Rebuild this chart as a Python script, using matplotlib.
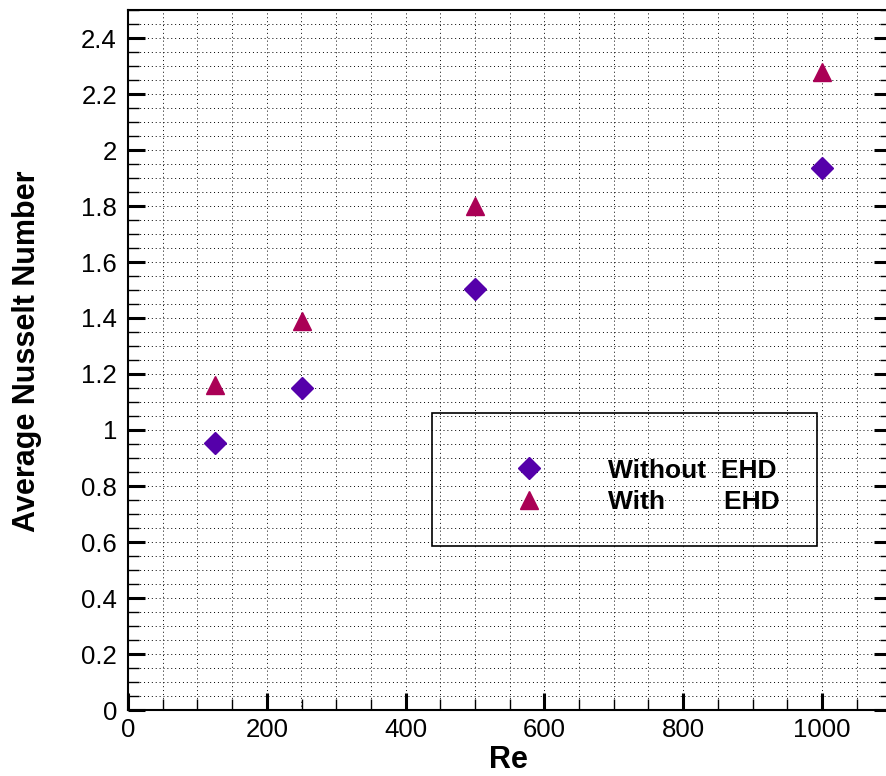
import matplotlib
matplotlib.use('Agg')
import matplotlib.pyplot as plt
import matplotlib.patches as mpatches
from matplotlib.ticker import MultipleLocator, FormatStrFormatter
import numpy as np

re_vals = [125, 250, 500, 1000]
nu_without = [0.954, 1.15, 1.504, 1.936]
nu_with = [1.16, 1.39, 1.80, 2.28]
labels = ['Without  EHD', 'With        EHD']

plt.rcParams['font.family'] = ['Liberation Sans', 'DejaVu Sans']

fig = plt.figure(figsize=(8.86, 7.76), dpi=100)
ax = fig.add_axes([128 / 886, 66 / 776, 763.4 / 886, 700 / 776])

ax.plot(re_vals, nu_without, linestyle='none', marker='D', markersize=11.5,
        color='#5500aa', label=labels[0])
ax.plot(re_vals, nu_with, linestyle='none', marker='^', markersize=13,
        color='#aa0055', label=labels[1])

ax.set_xlim(0, 1100)
ax.set_ylim(0, 2.5)
ax.xaxis.set_major_locator(MultipleLocator(200))
ax.xaxis.set_minor_locator(MultipleLocator(50))
ax.yaxis.set_major_locator(MultipleLocator(0.2))
ax.yaxis.set_minor_locator(MultipleLocator(0.05))
ax.yaxis.set_major_formatter(FormatStrFormatter('%g'))

ax.grid(which='both', color='black', linestyle=(0, (1, 3)), linewidth=0.7)
ax.set_axisbelow(True)

ax.tick_params(which='both', direction='in', top=False, right=True, labelsize=18.5)
ax.tick_params(which='major', length=12, width=2.2)
ax.tick_params(which='minor', length=8, width=1)
ax.tick_params(axis='y', pad=8)
ax.tick_params(axis='x', pad=6)
for s in ax.spines.values():
    s.set_linewidth(1.5)

ax.set_xlabel('Re', fontsize=22, fontweight='bold')
ax.set_ylabel('Average Nusselt Number', fontsize=22, fontweight='bold')
ax.xaxis.set_label_coords(0.498, -0.05)
ax.yaxis.set_label_coords(-0.112, 0.513)

# legend box drawn by hand, grid shows through it
frame = mpatches.Rectangle((438, 0.586), 555, 0.474, fill=False,
                           edgecolor='black', linewidth=1.2, zorder=3)
ax.add_patch(frame)
leg = ax.legend(loc='upper left', bbox_to_anchor=(0.473, 0.378), frameon=False,
                borderpad=0, handlelength=2, handletextpad=2.0, labelspacing=0.28,
                prop={'size': 19, 'weight': 'bold'})

fig.savefig('out.png', dpi=100)
